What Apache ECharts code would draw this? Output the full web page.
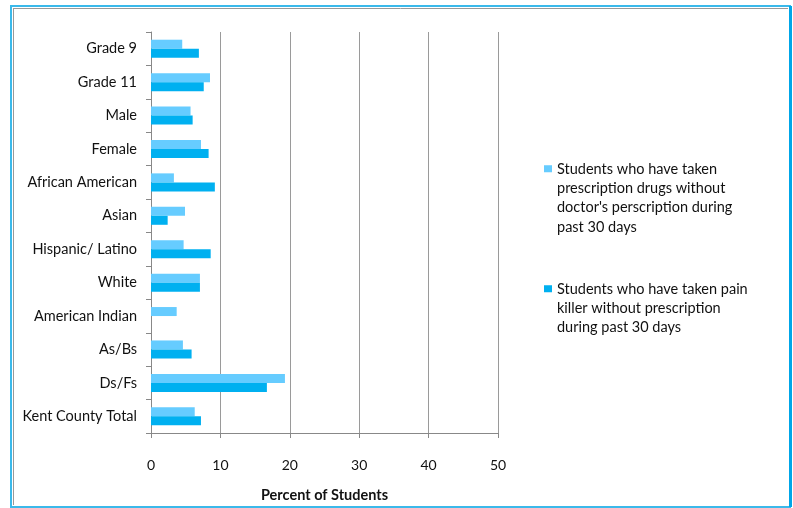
<!DOCTYPE html>
<html>
<head>
<meta charset="utf-8">
<script src="https://cdn.jsdelivr.net/npm/echarts@6/dist/echarts.min.js"></script>
<style>
html,body{margin:0;padding:0;background:#fff;}
#chart{width:793px;height:508px;}
</style>
</head>
<body>
<div id="chart"></div>
<script>
const categories = ["Grade 9","Grade 11","Male","Female","African American","Asian","Hispanic/ Latino","White","American Indian","As/Bs","Ds/Fs","Kent County Total"];
const seriesNames = ["Students who have taken\nprescription drugs without\ndoctor's perscription during\npast 30 days","Students who have taken pain\nkiller without prescription\nduring past 30 days"];
const prescriptionDrugs = [4.5, 8.5, 5.7, 7.2, 3.3, 4.9, 4.7, 7.05, 3.7, 4.6, 19.3, 6.3];
const painKillers = [6.9, 7.6, 6.0, 8.3, 9.2, 2.4, 8.6, 7.05, 0, 5.85, 16.7, 7.2];
const xTicks = [0, 10, 20, 30, 40, 50];

const FONT = "Lato, 'Open Sans', sans-serif";
const LH = 19.3;
const legendTops = [169, 289];
function makeLegend(name, firstLineY) {
  const lines = name.split('\n').length;
  const h = lines * LH;
  const icon = 'path://M0,0h0.01v0.01h-0.01z M0,6h8v7h-8z M0,' + (h - 0.01).toFixed(2) + 'h0.01v0.01h-0.01z';
  return {
    orient:'vertical', left:544, top:firstLineY - LH / 2, padding:0,
    itemWidth:8, itemHeight:h, icon: icon,
    textStyle:{fontSize:14.5, color:'#111', lineHeight:LH, fontFamily:FONT},
    data:[name]
  };
}
const chart = echarts.init(document.getElementById('chart'));
chart.setOption({
  animation: false,
  textStyle: {fontFamily: FONT},
  graphic: [
    {type:'rect', shape:{x:11, y:6, width:779, height:501}, style:{fill:'none', stroke:'#3BB9EA', lineWidth:2}, silent:true},
    {type:'line', shape:{x1:13, y1:8.5, x2:788, y2:8.5}, style:{stroke:'#999', lineWidth:1}, silent:true},
    {type:'line', shape:{x1:13.5, y1:8, x2:13.5, y2:505}, style:{stroke:'#999', lineWidth:1}, silent:true},
    {type:'line', shape:{x1:790.5, y1:6, x2:790.5, y2:507}, style:{stroke:'#00A6E8', lineWidth:3}, silent:true}
  ],
  grid: {left:151, right:295, top:32, bottom:68, containLabel:false},
  legend: seriesNames.map((n, i) => makeLegend(n, legendTops[i])),
  xAxis: {
    type:'value', min:0, max:50, interval:10,
    axisLine:{show:true, lineStyle:{color:'#888'}},
    axisTick:{show:true, length:5, lineStyle:{color:'#888'}},
    axisLabel:{fontSize:14, color:'#111', margin:25, formatter: v => xTicks.includes(v) ? String(v) : ''},
    splitLine:{show:true, lineStyle:{color:'#9a9a9a', width:1}},
    name:'Percent of Students', nameLocation:'middle', nameGap:55,
    nameTextStyle:{fontSize:14.5, fontWeight:'bold', color:'#111', fontFamily:FONT}
  },
  yAxis: {
    type:'category', data:categories, inverse:true,
    axisLine:{show:true, lineStyle:{color:'#888'}},
    axisTick:{show:true, length:5, lineStyle:{color:'#888'}},
    axisLabel:{fontSize:14.5, color:'#111', margin:14, padding:[3,0,0,0]}
  },
  series: [
    {name:seriesNames[0], type:'bar', data:prescriptionDrugs, barWidth:9, barGap:'0%', itemStyle:{color:'#66CCFF'}},
    {name:seriesNames[1], type:'bar', data:painKillers, barWidth:9, barGap:'0%', itemStyle:{color:'#00B0F0'}}
  ]
});
</script>
</body>
</html>
